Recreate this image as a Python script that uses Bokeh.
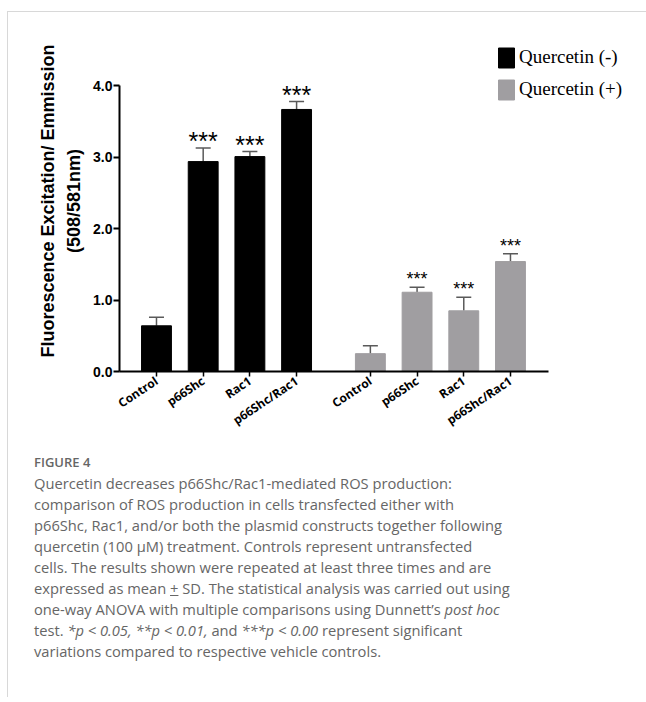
from bokeh.plotting import figure
from bokeh.models import (Range1d, FixedTicker, Whisker, TeeHead, ColumnDataSource,
                          Legend, LegendItem, Div)
from bokeh.layouts import column
from bokeh.embed import file_html
from bokeh.resources import INLINE
from bokeh.core.properties import value

# ---------------- data ----------------
categories = ["Control", "p66Shc", "Rac1", "p66Shc/Rac1"]
groups = ["Quercetin (-)", "Quercetin (+)"]
mean_minus = [0.64, 2.94, 3.01, 3.67]
sd_minus = [0.12, 0.19, 0.07, 0.11]
mean_plus = [0.25, 1.11, 0.85, 1.54]
sd_plus = [0.11, 0.07, 0.19, 0.11]
sig_minus = ["", "***", "***", "***"]
sig_plus = ["", "***", "***", "***"]
y_ticks = [0, 1, 2, 3, 4]
y_tick_labels = ["0.0", "1.0", "2.0", "3.0", "4.0"]

# ---------------- styling constants ----------------
GROUP_OFFSET = 4.58
BAR_W = 0.64
PX_X = 46.7
PX_Y = 71.4
FRAME_W = 506
FRAME_H = 341
X0 = -0.792
X_AXIS_END = 8.39
BLACK = "#000000"
GRAY = "#a09ea1"
ERR = "#5a5a5a"

def make_source(means, sds, sigs, offset):
    xs = [offset + i for i in range(len(means))]
    return ColumnDataSource(dict(
        x=xs, top=means, upper=[m + s for m, s in zip(means, sds)],
        lower=means, sig=sigs, cat=categories))

src_minus = make_source(mean_minus, sd_minus, sig_minus, 0.0)
src_plus = make_source(mean_plus, sd_plus, sig_plus, GROUP_OFFSET)

p = figure(frame_width=FRAME_W, frame_height=FRAME_H,
           min_border_left=111, min_border_right=20,
           min_border_top=18, min_border_bottom=76,
           x_range=Range1d(X0, X0 + FRAME_W / PX_X),
           y_range=Range1d(0, FRAME_H / PX_Y),
           output_backend="svg", toolbar_location=None, tools="")
p.outline_line_color = None
p.xgrid.visible = False
p.ygrid.visible = False
p.background_fill_color = "white"
p.border_fill_color = "white"

r_minus = p.vbar(x="x", top="top", width=BAR_W, bottom=0, source=src_minus,
                 fill_color=BLACK, line_color=BLACK)
r_plus = p.vbar(x="x", top="top", width=BAR_W, bottom=0, source=src_plus,
                fill_color=GRAY, line_color=GRAY)

for src in (src_minus, src_plus):
    w = Whisker(base="x", upper="upper", lower="lower", source=src,
                line_color=ERR, line_width=1.5,
                upper_head=TeeHead(size=15, line_color=ERR, line_width=1.5),
                lower_head=None)
    p.add_layout(w)

p.text(x="x", y="upper", text="sig", source=src_minus, text_align="center",
       text_baseline="alphabetic", y_offset=-7, text_font=value("Liberation Sans"),
       text_font_size="25px", text_color="black")
p.text(x="x", y="upper", text="sig", source=src_plus, text_align="center",
       text_baseline="alphabetic", y_offset=-8, text_font=value("Liberation Sans"),
       text_font_size="18px", text_color="black")

# axes
xticks = list(src_minus.data["x"]) + list(src_plus.data["x"])
p.xaxis.ticker = FixedTicker(ticks=xticks)
p.xaxis.major_label_overrides = {float(t): categories[i % 4] for i, t in enumerate(xticks)}
p.xaxis.bounds = (X0, X_AXIS_END)
p.xaxis.major_label_orientation = 0.59
p.xaxis.major_label_text_font = "Open Sans"
p.xaxis.major_label_text_font_style = "bold"
p.xaxis.major_label_text_font_size = "12px"
p.xaxis.major_label_text_color = "black"
p.xaxis.major_label_standoff = 3
p.xaxis.axis_line_width = 2
p.xaxis.major_tick_line_width = 1.5
p.xaxis.major_tick_out = 5
p.xaxis.major_tick_in = 0
p.xaxis.minor_tick_line_color = None

p.yaxis.ticker = FixedTicker(ticks=y_ticks)
p.yaxis.major_label_overrides = {t: l for t, l in zip(y_ticks, y_tick_labels)}
p.yaxis.bounds = (0, 4)
p.yaxis.major_label_text_font = "Liberation Sans"
p.yaxis.major_label_text_font_style = "bold"
p.yaxis.major_label_text_font_size = "14px"
p.yaxis.major_label_text_color = "black"
p.yaxis.major_label_standoff = 1
p.yaxis.axis_line_width = 2
p.yaxis.major_tick_line_width = 2
p.yaxis.major_tick_out = 6
p.yaxis.major_tick_in = 0
p.yaxis.minor_tick_line_color = None
p.yaxis.axis_label = "Fluorescence Excitation/ Emmission\n(508/581nm)"
p.yaxis.axis_label_text_font = "Liberation Sans"
p.yaxis.axis_label_text_font_style = "bold"
p.yaxis.axis_label_text_font_size = "18px"
p.yaxis.axis_label_text_color = "black"
p.yaxis.axis_label_text_line_height = 1.3
p.yaxis.axis_label_standoff = 6

legend = Legend(items=[LegendItem(label=groups[0], renderers=[r_minus]),
                       LegendItem(label=groups[1], renderers=[r_plus])],
                location=(377, 269), orientation="vertical",
                glyph_width=20, glyph_height=25, label_height=25,
                spacing=7, padding=0, margin=0, label_standoff=3,
                label_text_font="Liberation Serif", label_text_font_size="19px",
                label_text_color="black", border_line_color=None,
                background_fill_alpha=0)
p.add_layout(legend)

caption_lines = [
    "Quercetin decreases p66Shc/Rac1-mediated ROS production:",
    "comparison of ROS production in cells transfected either with",
    "p66Shc, Rac1, and/or both the plasmid constructs together following",
    "quercetin (100 μM) treatment. Controls represent untransfected",
    "cells. The results shown were repeated at least three times and are",
    "expressed as mean <u>+</u> SD. The statistical analysis was carried out using",
    "one-way ANOVA with multiple comparisons using Dunnett’s <i>post hoc</i>",
    "test. <i>*p &lt; 0.05, **p &lt; 0.01,</i> and <i>***p &lt; 0.00</i> represent significant",
    "variations compared to respective vehicle controls.",
]
html = ('<div style="font-family:\'Open Sans\';color:#666;white-space:nowrap;padding-left:21px;">'
        '<div style="font-size:13px;font-weight:600;line-height:21px;">FIGURE 4</div>'
        '<div style="font-size:14.7px;line-height:21px;">' + "<br>".join(caption_lines) +
        '</div></div>')
cap = Div(text=html, width=636, height=240)

layout = column(p, cap, styles={"border-top": "1.5px solid #d8d8d8",
                                "border-left": "1.5px solid #d8d8d8",
                                "margin-top": "10.5px",
                                "margin-left": "7px",
                                "background": "white"})

open("out.html", "w").write(file_html(layout, INLINE))
